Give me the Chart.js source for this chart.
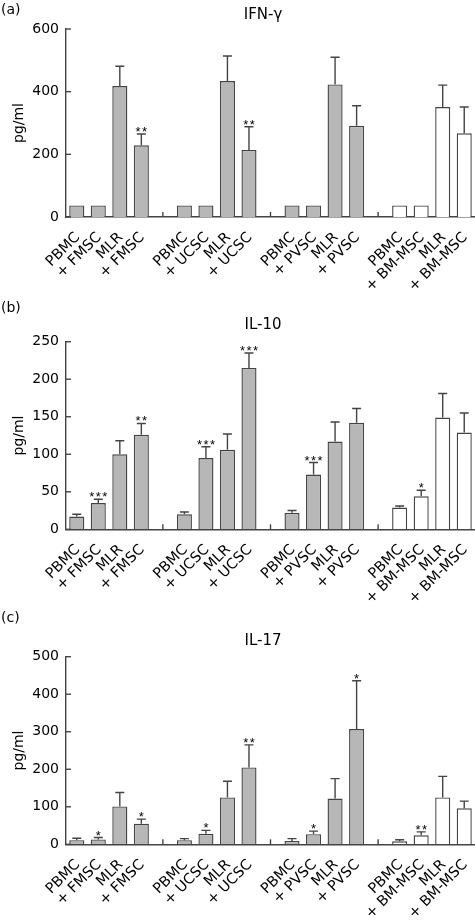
<!DOCTYPE html>
<html>
<head>
<meta charset="utf-8">
<script src="https://cdn.jsdelivr.net/npm/chart.js@4"></script>
<style>
  body { margin: 0; background: #fff; }
  .panel { position: absolute; left: 0; width: 475px; }
</style>
</head>
<body>
<div class="panel" style="top:0;height:300px"><canvas id="chart-ifn"></canvas></div>
<div class="panel" style="top:300px;height:310px"><canvas id="chart-il10"></canvas></div>
<div class="panel" style="top:610px;height:313px"><canvas id="chart-il17"></canvas></div>
<script>
// categories, empty strings are the gaps between the four groups
const labels = ['PBMC', '+ FMSC', 'MLR', '+ FMSC', '',
                'PBMC', '+ UCSC', 'MLR', '+ UCSC', '',
                'PBMC', '+ PVSC', 'MLR', '+ PVSC', '',
                'PBMC', '+ BM-MSC', 'MLR', '+ BM-MSC'];

// (a) IFN-gamma
const ifnMean  = [37, 37, 418, 229, null, 37, 37, 434, 214, null, 37, 37, 423, 291, null, 37, 37, 351, 267];
const ifnSd    = [0, 0, 63, 36, null, 0, 0, 80, 74, null, 0, 0, 87, 64, null, 0, 0, 70, 84];
const ifnStars = ['', '', '', '**', '', '', '', '', '**', '', '', '', '', '', '', '', '', '', ''];
const ifnTicks = [0, 200, 400, 600];

// (b) IL-10
const il10Mean  = [17, 35, 100, 126, null, 20, 95, 106, 215, null, 22, 73, 117, 142, null, 29, 44, 149, 129];
const il10Sd    = [3, 5, 18, 15, null, 3, 15, 21, 20, null, 3, 16, 26, 19, null, 2, 8, 32, 26];
const il10Stars = ['', '***', '', '**', '', '', '***', '', '***', '', '', '***', '', '', '', '', '*', '', ''];
const il10Ticks = [0, 50, 100, 150, 200, 250];

// (c) IL-17
const il17Mean  = [11, 13, 101, 55, null, 11, 28, 125, 205, null, 9, 27, 122, 307, null, 8, 24, 125, 96];
const il17Sd    = [5, 5, 37, 12, null, 4, 9, 43, 60, null, 6, 8, 53, 129, null, 4, 9, 56, 19];
const il17Stars = ['', '*', '', '*', '', '', '*', '', '**', '', '', '*', '', '*', '', '', '**', '', ''];
const il17Ticks = [0, 100, 200, 300, 400, 500];

const FONT = '"DejaVu Sans", Arial, sans-serif';
const LINE = '#444444';
Chart.defaults.font.family = FONT;
Chart.defaults.color = '#000';

function makePanel(id, letter, title, mean, sd, stars, ticks, lay) {
  const fills = labels.map((l, i) => i >= 15 ? '#ffffff' : '#b7b7b7');

  const decor = {
    id: 'decor',
    afterDatasetsDraw(chart) {
      const ctx = chart.ctx;
      const xs = chart.scales.x, ys = chart.scales.y;
      const area = chart.chartArea;
      ctx.save();
      ctx.strokeStyle = LINE;
      ctx.lineWidth = 1.4;

      // error bars (upper only) and significance stars
      mean.forEach((m, i) => {
        if (m === null) return;
        const x = xs.getPixelForValue(i);
        const y0 = ys.getPixelForValue(m);
        const y1 = ys.getPixelForValue(m + sd[i]);
        if (sd[i] > 0) {
          ctx.beginPath();
          ctx.moveTo(x, y0);
          ctx.lineTo(x, y1);
          ctx.moveTo(x - 4.5, y1);
          ctx.lineTo(x + 4.5, y1);
          ctx.stroke();
        }
        const n = stars[i].length;
        ctx.fillStyle = '#000';
        ctx.font = '13px "Liberation Sans", Arial, sans-serif';
        ctx.textAlign = 'center';
        ctx.textBaseline = 'alphabetic';
        for (let k = 0; k < n; k++) {
          ctx.fillText('*', x + (k - (n - 1) / 2) * 6.5, y1 + 2);
        }
      });

      // inward ticks on the y axis
      ys.ticks.forEach(t => {
        const y = ys.getPixelForValue(t.value);
        ctx.beginPath();
        ctx.moveTo(area.left, y);
        ctx.lineTo(area.left + 5, y);
        ctx.stroke();
      });

      // small ticks at the gaps between groups
      labels.forEach((l, i) => {
        if (l !== '') return;
        const x = xs.getPixelForValue(i);
        ctx.beginPath();
        ctx.moveTo(x, area.bottom);
        ctx.lineTo(x, area.bottom - 5);
        ctx.stroke();
      });

      // panel letter and title
      ctx.fillStyle = '#000';
      ctx.font = '14px ' + FONT;
      ctx.textAlign = 'left';
      ctx.textBaseline = 'middle';
      ctx.fillText(letter, 1, lay.letterY);
      ctx.font = '15px ' + FONT;
      ctx.textAlign = 'center';
      ctx.fillText(title, 263, lay.titleY);
      ctx.restore();
    }
  };

  new Chart(document.getElementById(id), {
    type: 'bar',
    data: {
      labels: labels,
      datasets: [{
        data: mean,
        backgroundColor: fills,
        borderColor: LINE,
        borderWidth: 1.4,
        borderSkipped: 'bottom',
        barPercentage: 0.7,
        categoryPercentage: 1
      }]
    },
    options: {
      responsive: true,
      maintainAspectRatio: false,
      animation: false,
      layout: { padding: { top: lay.plotTop, right: 0, left: 0, bottom: 0 } },
      plugins: { legend: { display: false }, tooltip: { enabled: false } },
      scales: {
        x: {
          grid: { display: false, drawTicks: false },
          border: { display: true, color: LINE, width: 1.4 },
          ticks: {
            autoSkip: false,
            minRotation: 45,
            maxRotation: 45,
            padding: 12,
            labelOffset: 1,
            font: { size: 14.5 }
          },
          afterFit(s) { s.height = lay.xHeight; s.paddingLeft = 0; s.paddingRight = 0; }
        },
        y: {
          min: ticks[0],
          max: ticks[ticks.length - 1],
          afterBuildTicks(s) { s.ticks = ticks.map(v => ({ value: v })); },
          grid: { display: false, drawTicks: false },
          border: { display: true, color: LINE, width: 1.4 },
          ticks: { padding: 7, font: { size: 14 } },
          title: { display: true, text: 'pg/ml', font: { size: 14 }, padding: { top: 11, bottom: 0 } },
          afterFit(s) { s.width = 66; }
        }
      }
    },
    plugins: [decor]
  });
}

makePanel('chart-ifn', '(a)', 'IFN-γ', ifnMean, ifnSd, ifnStars, ifnTicks,
  { plotTop: 29, xHeight: 83, letterY: 10, titleY: 15 });
makePanel('chart-il10', '(b)', 'IL-10', il10Mean, il10Sd, il10Stars, il10Ticks,
  { plotTop: 41.7, xHeight: 80.7, letterY: 8, titleY: 25 });
makePanel('chart-il17', '(c)', 'IL-17', il17Mean, il17Sd, il17Stars, il17Ticks,
  { plotTop: 46.7, xHeight: 78.7, letterY: 8, titleY: 31 });
</script>
</body>
</html>
